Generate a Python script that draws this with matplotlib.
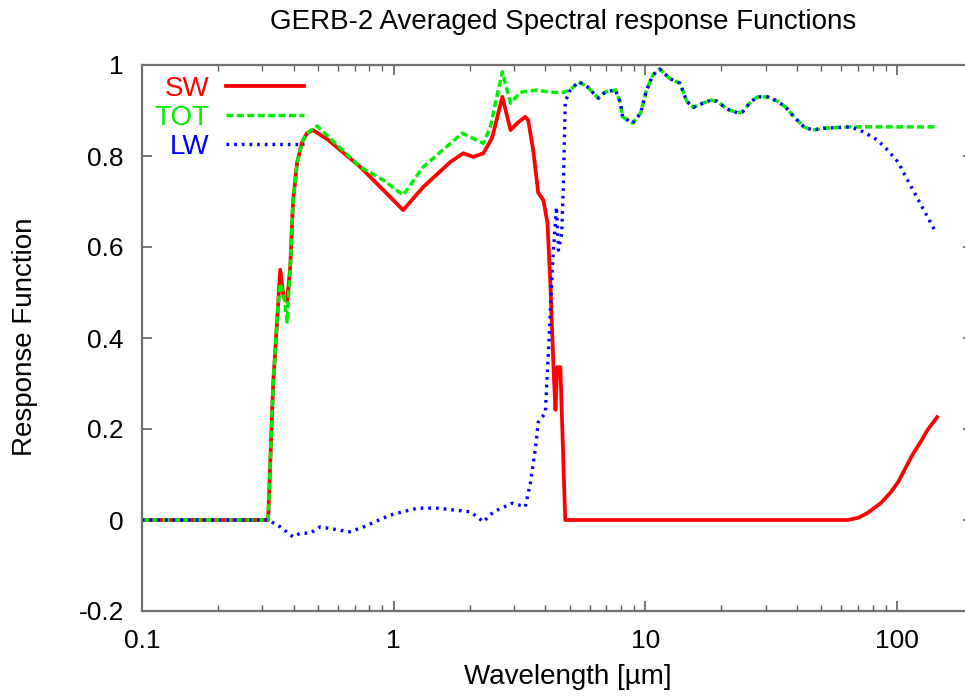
#! /usr/bin/env python3
import matplotlib
matplotlib.use('Agg')
import matplotlib.pyplot as plt
from matplotlib.ticker import FixedLocator, FuncFormatter, LogLocator, NullFormatter

# SW channel response (wavelength in micrometres)
sw_wl = [0.1, 0.317, 0.332, 0.347, 0.354, 0.365, 0.377, 0.388, 0.398, 0.413,
         0.432, 0.452, 0.478, 0.55, 0.736, 0.91, 1.09, 1.31, 1.68, 1.89,
         2.07, 2.27, 2.46, 2.70, 2.91, 3.09, 3.33, 3.42, 3.58, 3.75,
         3.93, 4.08, 4.19, 4.31, 4.39, 4.46, 4.59, 4.80, 10, 30,
         63.6, 70, 76, 86, 94, 101, 108, 116, 124, 132, 144]
sw_val = [0, 0, 0.30, 0.47, 0.55, 0.49, 0.48, 0.556, 0.70, 0.785,
          0.83, 0.85, 0.857, 0.835, 0.776, 0.725, 0.681, 0.732, 0.787, 0.806,
          0.798, 0.806, 0.84, 0.93, 0.857, 0.872, 0.886, 0.879, 0.813, 0.719,
          0.703, 0.653, 0.52, 0.336, 0.242, 0.336, 0.336, 0, 0, 0,
          0, 0.005, 0.015, 0.037, 0.060, 0.084, 0.115, 0.147, 0.172, 0.198, 0.226]

# Total channel response
tot_wl = [0.1, 0.317, 0.332, 0.347, 0.354, 0.365, 0.377, 0.388, 0.398, 0.413,
          0.432, 0.452, 0.496, 0.736, 0.91, 1.09, 1.31, 1.87, 2.27, 2.42,
          2.70, 2.91, 3.18, 3.71, 4.19, 4.72, 5.03, 5.43, 5.88, 6.50,
          6.93, 7.60, 7.96, 8.11, 8.89, 9.56, 10.1, 10.7, 11.4, 12.5,
          13.7, 14.6, 15.5, 16.9, 18.2, 19.3, 21.1, 23.2, 24.3, 26.2,
          27.9, 30.5, 33.5, 36.1, 38.9, 42.6, 46.2, 51.1, 65.2, 145]
tot_val = [0, 0, 0.30, 0.47, 0.52, 0.50, 0.435, 0.556, 0.70, 0.785,
           0.83, 0.85, 0.866, 0.776, 0.747, 0.714, 0.776, 0.85, 0.828, 0.864,
           0.985, 0.916, 0.94, 0.945, 0.94, 0.94, 0.945, 0.963, 0.952, 0.927,
           0.941, 0.945, 0.916, 0.886, 0.872, 0.894, 0.945, 0.978, 0.991, 0.97,
           0.96, 0.92, 0.907, 0.916, 0.923, 0.92, 0.903, 0.895, 0.897, 0.919,
           0.93, 0.93, 0.92, 0.907, 0.886, 0.864, 0.857, 0.861, 0.864, 0.864]

# LW channel response
lw_wl = [0.1, 0.317, 0.354, 0.398, 0.425, 0.466, 0.51, 0.575, 0.67, 0.76,
         0.97, 1.24, 1.49, 2.02, 2.27, 2.49, 2.96, 3.33, 3.49, 3.66,
         3.75, 4.00, 4.12, 4.27, 4.31, 4.43, 4.51, 4.65, 4.72, 4.80,
         5.03, 5.43, 5.88, 6.50, 6.93, 7.60, 7.96, 8.11, 8.89, 9.56,
         10.1, 10.7, 11.4, 12.5, 13.7, 14.6, 15.5, 16.9, 18.2, 19.3,
         21.1, 23.2, 24.3, 26.2, 27.9, 30.5, 33.5, 36.1, 38.9, 42.6,
         46.2, 51.1, 65.2, 73.5, 83.5, 91.5, 100.7, 110, 120, 132, 142]
lw_val = [0, 0, -0.015, -0.037, -0.029, -0.029, -0.015, -0.02, -0.026, -0.015,
          0.011, 0.026, 0.026, 0.018, -0.004, 0.018, 0.037, 0.029, 0.081, 0.16,
          0.215, 0.235, 0.374, 0.556, 0.593, 0.688, 0.593, 0.63, 0.74, 0.92,
          0.945, 0.963, 0.952, 0.927, 0.941, 0.945, 0.916, 0.886, 0.872, 0.894,
          0.945, 0.978, 0.991, 0.97, 0.96, 0.92, 0.907, 0.916, 0.923, 0.92,
          0.903, 0.895, 0.897, 0.919, 0.93, 0.93, 0.92, 0.907, 0.886, 0.864,
          0.857, 0.861, 0.864, 0.853, 0.835, 0.813, 0.787, 0.747, 0.708, 0.666, 0.633]

x_ticks = [0.1, 1, 10, 100]
x_ticklabels = ['0.1', '1', '10', '100']
y_ticks = [-0.2, 0, 0.2, 0.4, 0.6, 0.8, 1]


def main():
    plt.rcParams['font.family'] = ['Liberation Sans', 'DejaVu Sans']
    W, H = 965, 696
    fig = plt.figure(figsize=(W / 100, H / 100), dpi=100)
    ax = fig.add_axes([142 / W, 85 / H, 831 / W, 546 / H])

    ax.plot(sw_wl, sw_val, color='#ff0000', lw=2.7, label='SW',
            solid_joinstyle='round')
    ax.plot(tot_wl, tot_val, color='#00ee00', lw=2.5, label='TOT',
            linestyle=(0, (2.0, 1.0)))
    ax.plot(lw_wl, lw_val, color='#0000ff', lw=2.4, label='LW',
            linestyle=(0, (0.8, 1.5)))

    ax.set_xscale('log')
    ax.set_xlim(0.1, 200)
    ax.set_ylim(-0.2, 1)

    ax.xaxis.set_major_locator(FixedLocator(x_ticks))
    ax.set_xticklabels(x_ticklabels)
    ax.xaxis.set_minor_locator(LogLocator(base=10, subs=range(2, 10)))
    ax.xaxis.set_minor_formatter(NullFormatter())
    ax.yaxis.set_major_locator(FixedLocator(y_ticks))
    ax.yaxis.set_major_formatter(FuncFormatter(lambda v, p: f'{v:g}'))

    ax.tick_params(which='both', direction='in', top=True, right=True,
                   colors='#606060', labelcolor='black', labelsize=19)
    ax.tick_params(which='major', length=7, width=1.2)
    ax.tick_params(which='minor', length=4, width=1.0)
    ax.tick_params(axis='x', pad=13)
    ax.tick_params(axis='y', pad=13)
    for s in ax.spines.values():
        s.set_color('#707070')
        s.set_linewidth(1.6)

    # titles and axis labels placed like the gnuplot original
    fig.text(563 / W, 1 - 22 / H, 'GERB-2 Averaged Spectral response Functions',
             ha='center', va='center', fontsize=20)
    fig.text(568 / W, 1 - 677 / H, 'Wavelength [\u00b5m]',
             ha='center', va='center', fontsize=20)
    fig.text(25 / W, 1 - 337 / H, 'Response Function', rotation=90,
             ha='center', va='center', fontsize=20)

    leg = ax.legend(loc='upper right', bbox_to_anchor=(304 / W, 1 - 76 / H),
                    bbox_transform=fig.transFigure, frameon=False,
                    markerfirst=False, fontsize=20, handlelength=2.8,
                    handletextpad=0.6, labelspacing=0.1, borderpad=0,
                    borderaxespad=0)
    for text, line in zip(leg.get_texts(), leg.get_lines()):
        text.set_color(line.get_color())

    fig.savefig('out.png', dpi=100)


if __name__ == '__main__':
    main()
